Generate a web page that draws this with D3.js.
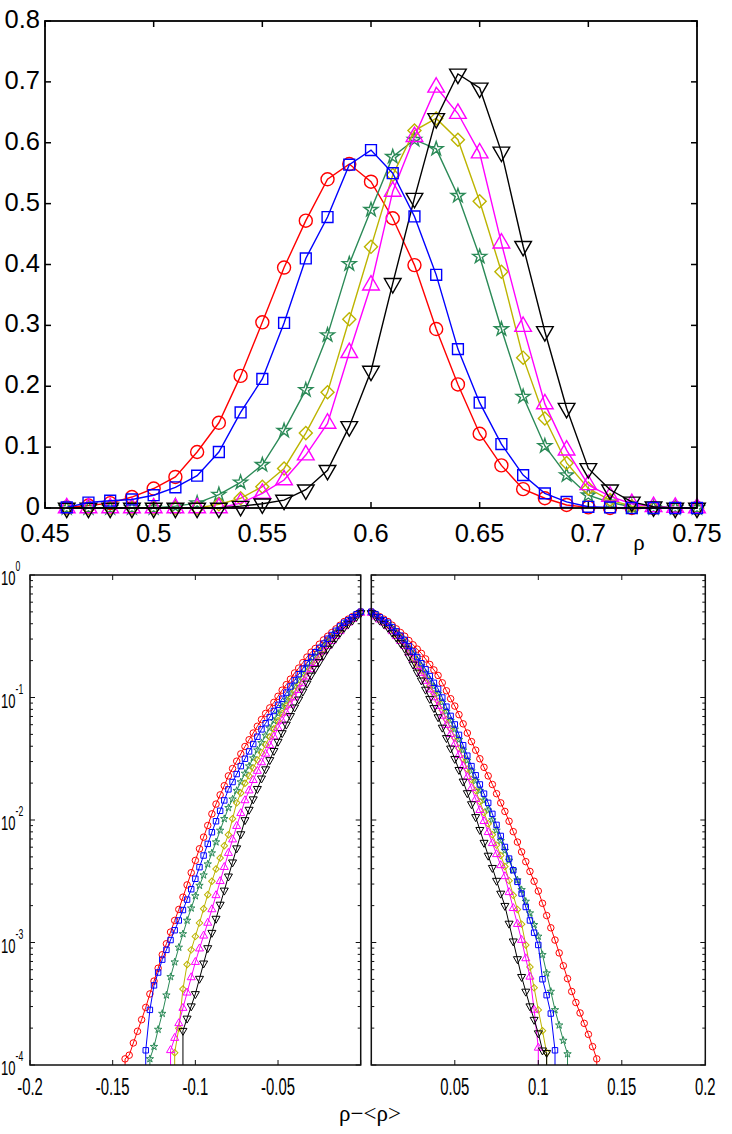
<!DOCTYPE html>
<html><head><meta charset="utf-8">
<script src="https://cdnjs.cloudflare.com/ajax/libs/d3/7.8.5/d3.min.js"></script>
<style>body{margin:0;background:#fff} svg{display:block}</style>
</head><body><svg id="c" width="732" height="1134"></svg>
<script>
// ---------- DATA ----------
// top panel: distribution P(rho) at rho = 0.46 ... 0.75
const rhoGrid = [0.46,0.47,0.48,0.49,0.50,0.51,0.52,0.53,0.54,0.55,0.56,0.57,0.58,0.59,0.60,0.61,0.62,0.63,0.64,0.65,0.66,0.67,0.68,0.69,0.70,0.71,0.72,0.73,0.74,0.75];
const topRed     = [0.001,0.004,0.008,0.018,0.032,0.051,0.092,0.140,0.217,0.305,0.395,0.472,0.540,0.565,0.536,0.476,0.399,0.294,0.203,0.122,0.070,0.031,0.016,0.005,0.001,0,0,0,0,0];
const topBlue    = [0.001,0.009,0.012,0.014,0.021,0.034,0.053,0.092,0.157,0.212,0.304,0.410,0.478,0.564,0.588,0.550,0.479,0.383,0.261,0.173,0.105,0.054,0.024,0.010,0.002,0.001,0,0,0,0];
const topGreen   = [0,0,0,0,0,0.003,0.008,0.022,0.042,0.071,0.127,0.194,0.284,0.401,0.490,0.577,0.605,0.590,0.513,0.413,0.294,0.183,0.102,0.054,0.021,0.009,0.002,0,0,0];
const topYellow  = [0,0,0,0,0,0,0,0.006,0.016,0.035,0.065,0.123,0.190,0.310,0.429,0.547,0.620,0.640,0.605,0.504,0.388,0.247,0.147,0.074,0.032,0.013,0.003,0,0,0];
const topMagenta = [0,0,0,0,0,0,0,0,0.008,0.024,0.046,0.087,0.139,0.255,0.366,0.520,0.610,0.691,0.648,0.583,0.435,0.298,0.171,0.095,0.038,0.019,0.007,0.002,0.001,0];
const topBlack   = [0,0,0,0,0,0,0,0,0.003,0.007,0.013,0.030,0.062,0.134,0.225,0.369,0.509,0.640,0.713,0.690,0.585,0.430,0.290,0.164,0.065,0.030,0.010,0.002,0,0];

// bottom panels: |rho - <rho>| grid and log10 of cumulative probability
const devGrid = [0,0.0025,0.005,0.0075,0.01,0.0125,0.015,0.0175,0.02,0.0225,0.025,0.0275,0.03,0.0325,0.035,0.0375,0.04,0.0425,0.045,0.0475,0.05,0.0525,0.055,0.0575,0.06,0.0625,0.065,0.0675,0.07,0.0725,0.075,0.0775,0.08,0.0825,0.085,0.0875,0.09,0.0925,0.095,0.0975,0.1,0.1025,0.105,0.1075,0.11,0.1125,0.115,0.1175,0.12,0.1225,0.125,0.1275,0.13,0.1325,0.135,0.1375,0.14,0.1425];

const leftRedLog = [-0.30,-0.32,-0.34,-0.36,-0.38,-0.41,-0.44,-0.47,-0.50,-0.53,-0.565,-0.60,-0.63,-0.67,-0.715,-0.76,-0.80,-0.85,-0.895,-0.94,-0.99,-1.04,-1.085,-1.13,-1.18,-1.235,-1.29,-1.345,-1.40,-1.46,-1.52,-1.58,-1.64,-1.72,-1.795,-1.87,-1.95,-2.045,-2.14,-2.235,-2.33,-2.43,-2.53,-2.63,-2.73,-2.82,-2.915,-3.01,-3.10,-3.21,-3.315,-3.42,-3.53,-3.63,-3.725,-3.82,-3.92,-3.95];
const leftBlueLog = [-0.30,-0.32,-0.345,-0.37,-0.39,-0.42,-0.455,-0.49,-0.52,-0.56,-0.595,-0.63,-0.67,-0.72,-0.765,-0.81,-0.86,-0.91,-0.96,-1.01,-1.06,-1.11,-1.16,-1.21,-1.26,-1.32,-1.38,-1.44,-1.50,-1.56,-1.625,-1.69,-1.75,-1.84,-1.925,-2.01,-2.10,-2.195,-2.29,-2.385,-2.48,-2.565,-2.65,-2.735,-2.82,-2.90,-2.98,-3.06,-3.14,-3.245,-3.35,-3.55,-3.88];
const leftGreenLog = [-0.30,-0.32,-0.35,-0.375,-0.40,-0.435,-0.47,-0.505,-0.54,-0.58,-0.625,-0.67,-0.71,-0.76,-0.81,-0.86,-0.91,-0.965,-1.02,-1.075,-1.13,-1.19,-1.25,-1.31,-1.37,-1.43,-1.495,-1.56,-1.62,-1.69,-1.76,-1.83,-1.90,-1.99,-2.085,-2.18,-2.27,-2.36,-2.45,-2.535,-2.62,-2.72,-2.82,-2.93,-3.04,-3.16,-3.28,-3.43,-3.58,-3.71,-3.85,-3.95];
const leftYellowLog = [-0.31,-0.33,-0.36,-0.385,-0.41,-0.45,-0.485,-0.52,-0.56,-0.605,-0.65,-0.695,-0.74,-0.79,-0.845,-0.90,-0.95,-1.01,-1.07,-1.13,-1.19,-1.255,-1.32,-1.385,-1.45,-1.51,-1.575,-1.64,-1.70,-1.78,-1.86,-1.99,-2.12,-2.21,-2.31,-2.40,-2.50,-2.61,-2.725,-2.84,-2.95,-3.06,-3.18,-3.38,-3.70,-3.90];
const leftMagentaLog = [-0.31,-0.33,-0.36,-0.39,-0.42,-0.46,-0.50,-0.54,-0.58,-0.625,-0.675,-0.72,-0.77,-0.83,-0.885,-0.94,-1.00,-1.06,-1.125,-1.19,-1.25,-1.32,-1.39,-1.46,-1.53,-1.60,-1.675,-1.76,-1.84,-1.945,-2.05,-2.16,-2.27,-2.385,-2.50,-2.615,-2.73,-2.84,-2.945,-3.05,-3.16,-3.285,-3.41,-3.535,-3.66,-3.78,-3.88];
const leftBlackLog = [-0.31,-0.34,-0.37,-0.40,-0.43,-0.47,-0.515,-0.56,-0.60,-0.655,-0.71,-0.765,-0.82,-0.885,-0.95,-1.015,-1.08,-1.15,-1.22,-1.29,-1.36,-1.435,-1.51,-1.585,-1.66,-1.745,-1.83,-1.915,-2.00,-2.115,-2.23,-2.345,-2.46,-2.575,-2.69,-2.805,-2.92,-3.045,-3.17,-3.295,-3.42,-3.52,-3.62,-3.72];

const rightRedLog = [-0.30,-0.32,-0.34,-0.36,-0.38,-0.41,-0.44,-0.47,-0.50,-0.535,-0.57,-0.605,-0.64,-0.685,-0.73,-0.775,-0.82,-0.88,-0.945,-1.01,-1.07,-1.14,-1.215,-1.29,-1.36,-1.43,-1.50,-1.57,-1.64,-1.71,-1.785,-1.86,-1.93,-2.01,-2.095,-2.18,-2.26,-2.34,-2.42,-2.50,-2.58,-2.68,-2.78,-2.88,-2.98,-3.085,-3.19,-3.295,-3.40,-3.49,-3.575,-3.66,-3.75,-3.85,-3.95];
const rightBlueLog = [-0.30,-0.32,-0.345,-0.37,-0.39,-0.425,-0.46,-0.495,-0.53,-0.58,-0.625,-0.67,-0.72,-0.77,-0.825,-0.88,-0.93,-1.00,-1.075,-1.15,-1.22,-1.305,-1.39,-1.475,-1.56,-1.635,-1.71,-1.785,-1.86,-1.95,-2.04,-2.13,-2.22,-2.315,-2.41,-2.505,-2.60,-2.71,-2.82,-2.92,-3.02,-3.30,-3.43,-3.58,-3.88];
const rightGreenLog = [-0.30,-0.32,-0.35,-0.375,-0.40,-0.435,-0.475,-0.51,-0.55,-0.60,-0.645,-0.69,-0.74,-0.80,-0.855,-0.91,-0.97,-1.04,-1.115,-1.19,-1.26,-1.345,-1.43,-1.515,-1.60,-1.68,-1.76,-1.84,-1.92,-2.00,-2.085,-2.17,-2.25,-2.33,-2.41,-2.49,-2.57,-2.665,-2.76,-2.855,-2.95,-3.10,-3.25,-3.40,-3.55,-3.675,-3.80,-3.91];
const rightYellowLog = [-0.31,-0.33,-0.36,-0.385,-0.41,-0.45,-0.49,-0.53,-0.57,-0.62,-0.675,-0.73,-0.78,-0.84,-0.905,-0.97,-1.03,-1.105,-1.18,-1.255,-1.33,-1.415,-1.50,-1.585,-1.67,-1.76,-1.85,-1.94,-2.03,-2.12,-2.205,-2.29,-2.38,-2.495,-2.615,-2.73,-2.85,-3.02,-3.20,-3.37,-3.55,-3.72,-3.90];
const rightMagentaLog = [-0.31,-0.34,-0.365,-0.39,-0.42,-0.46,-0.50,-0.54,-0.58,-0.635,-0.69,-0.745,-0.80,-0.865,-0.935,-1.00,-1.07,-1.15,-1.225,-1.30,-1.38,-1.47,-1.56,-1.65,-1.74,-1.83,-1.92,-2.01,-2.10,-2.19,-2.28,-2.37,-2.46,-2.59,-2.72,-2.85,-2.98,-3.13,-3.28,-3.55,-3.86];
const rightBlackLog = [-0.31,-0.34,-0.37,-0.40,-0.43,-0.47,-0.51,-0.555,-0.60,-0.665,-0.73,-0.795,-0.86,-0.935,-1.01,-1.085,-1.16,-1.245,-1.33,-1.415,-1.50,-1.59,-1.685,-1.78,-1.87,-1.975,-2.08,-2.185,-2.29,-2.39,-2.495,-2.60,-2.70,-2.845,-2.99,-3.135,-3.28,-3.40,-3.52,-3.63,-3.74,-3.88,-3.90];

// ticks
const topXTicks = [0.45,0.5,0.55,0.6,0.65,0.7,0.75];
const topXTickLabels = ["0.45","0.5","0.55","0.6","0.65","0.7","0.75"];
const topYTicks = [0,0.1,0.2,0.3,0.4,0.5,0.6,0.7,0.8];
const topYTickLabels = ["0","0.1","0.2","0.3","0.4","0.5","0.6","0.7","0.8"];
const botYTicks = [1,0.1,0.01,0.001,0.0001];
const botYTickExp = ["0","-1","-2","-3","-4"];
const leftXTicks = [-0.2,-0.15,-0.1,-0.05,0];
const leftXTickLabels = ["-0.2","-0.15","-0.1","-0.05",""];
const rightXTicks = [0,0.05,0.1,0.15,0.2];
const rightXTickLabels = ["","0.05","0.1","0.15","0.2"];

// ---------- STYLE ----------
const colors = {red:"#ff0000", blue:"#0000ff", green:"#2b8a57", yellow:"#bdb400", magenta:"#ff00ff", black:"#000000"};
const order = ["red","green","yellow","magenta","black","blue"];
const topSeries = {red:topRed, blue:topBlue, green:topGreen, yellow:topYellow, magenta:topMagenta, black:topBlack};
const leftSeries = {red:leftRedLog, blue:leftBlueLog, green:leftGreenLog, yellow:leftYellowLog, magenta:leftMagentaLog, black:leftBlackLog};
const rightSeries = {red:rightRedLog, blue:rightBlueLog, green:rightGreenLog, yellow:rightYellowLog, magenta:rightMagentaLog, black:rightBlackLog};

const svg = d3.select("#c");

function marker(name, big) {
  const k = big ? 1 : 0.25;
  switch (name) {
    case "red": return {type:d3.symbolCircle, size:133*k, rot:0};
    case "blue": return {type:d3.symbolSquare, size:118*k, rot:0};
    case "green": return {type:d3.symbolStar, size:(big?60:17), rot:0};
    case "yellow": return {type:d3.symbolSquare, size:85*k, rot:45};
    case "magenta": return {type:d3.symbolTriangle, size:(big?120:28), rot:0};
    case "black": return {type:d3.symbolTriangle, size:(big?120:28), rot:180};
  }
}

const sans = "Liberation Sans, Arial, Helvetica, sans-serif";

// ---------- TOP PANEL ----------
const tx = d3.scaleLinear([0.45,0.75],[45,697]);
const ty = d3.scaleLinear([0,0.8],[508,21]);
const gTop = svg.append("g");

order.forEach(name => {
  const vals = topSeries[name];
  const pts = rhoGrid.map((r,i)=>[tx(r), ty(vals[i])]);
  gTop.append("path").attr("d", d3.line()(pts)).attr("fill","none")
    .attr("stroke", colors[name]).attr("stroke-width",1.4);
  const m = marker(name, true);
  const sym = d3.symbol().type(m.type).size(m.size)();
  gTop.selectAll(null).data(pts).enter().append("path")
    .attr("d", sym)
    .attr("transform", d=>`translate(${d[0]},${d[1]}) rotate(${m.rot})`)
    .attr("fill","none").attr("stroke", colors[name]).attr("stroke-width",1.4);
});

gTop.append("rect").attr("x",45).attr("y",21).attr("width",697-45).attr("height",508-21)
  .attr("fill","none").attr("stroke","#000").attr("stroke-width",1.8);
topXTicks.forEach((t,i)=>{
  const x = tx(t);
  gTop.append("line").attr("x1",x).attr("x2",x).attr("y1",508).attr("y2",502).attr("stroke","#000").attr("stroke-width",1.5);
  gTop.append("line").attr("x1",x).attr("x2",x).attr("y1",21).attr("y2",27).attr("stroke","#000").attr("stroke-width",1.5);
  gTop.append("text").attr("x",x).attr("y",542).attr("text-anchor","middle")
    .attr("font-family",sans).attr("font-size",25.5).text(topXTickLabels[i]);
});
topYTicks.forEach((t,i)=>{
  const y = ty(t);
  gTop.append("line").attr("x1",45).attr("x2",51).attr("y1",y).attr("y2",y).attr("stroke","#000").attr("stroke-width",1.5);
  gTop.append("line").attr("x1",697).attr("x2",691).attr("y1",y).attr("y2",y).attr("stroke","#000").attr("stroke-width",1.5);
  gTop.append("text").attr("x",40).attr("y",y+7).attr("text-anchor","end")
    .attr("font-family",sans).attr("font-size",25.5).text(topYTickLabels[i]);
});
gTop.append("text").attr("x",639).attr("y",550).attr("text-anchor","middle")
  .attr("font-family","Liberation Serif, serif").attr("font-size",23).text("ρ");

// ---------- BOTTOM PANELS ----------
const by = d3.scaleLog([1e-4,1],[1065,575]);
const lx = d3.scaleLinear([-0.2,0],[30,360.7]);
const rx = d3.scaleLinear([0,0.2],[371.3,705.3]);
const condensed = 0.62;

function drawPanel(xs, sign, series, xTicks, xLabels, showY) {
  const g = svg.append("g");
  const [x0,x1] = xs.range();
  const y0 = 1065, y1 = 575;
  order.forEach(name => {
    const vals = series[name];
    const pts = vals.map((v,i)=>[xs(sign*devGrid[i]), by(Math.pow(10,v))]);
    const linePts = pts.concat([[pts[pts.length-1][0], by(1e-4)]]);
    g.append("path").attr("d", d3.line()(linePts)).attr("fill","none")
      .attr("stroke", colors[name]).attr("stroke-width",1);
    const m = marker(name, false);
    const sym = d3.symbol().type(m.type).size(m.size)();
    g.selectAll(null).data(pts).enter().append("path")
      .attr("d", sym)
      .attr("transform", d=>`translate(${d[0]},${d[1]}) rotate(${m.rot})`)
      .attr("fill","none").attr("stroke", colors[name]).attr("stroke-width",1);
  });
  g.append("rect").attr("x",x0).attr("y",y1).attr("width",x1-x0).attr("height",y0-y1)
    .attr("fill","none").attr("stroke","#111").attr("stroke-width",1.5);
  xTicks.forEach((t,i)=>{
    const x = xs(t);
    g.append("line").attr("x1",x).attr("x2",x).attr("y1",y0).attr("y2",y0-5).attr("stroke","#111");
    g.append("line").attr("x1",x).attr("x2",x).attr("y1",y1).attr("y2",y1+5).attr("stroke","#111");
    if (xLabels[i]) {
      g.append("text").attr("transform",`translate(${x},1095) scale(${condensed},1)`)
        .attr("text-anchor","middle").attr("font-family",sans)
        .attr("font-size",24).text(xLabels[i]);
    }
  });
  // log ticks
  for (let e=-4; e<=0; e++) {
    for (let m=1; m<=9; m++) {
      const v = m*Math.pow(10,e);
      if (v>1.0000001) break;
      const y = by(v);
      const len = m===1 ? 5 : 3;
      g.append("line").attr("x1",x0).attr("x2",x0+len).attr("y1",y).attr("y2",y).attr("stroke","#111");
      g.append("line").attr("x1",x1).attr("x2",x1-len).attr("y1",y).attr("y2",y).attr("stroke","#111");
    }
  }
  if (showY) {
    botYTicks.forEach((t,i)=>{
      const y = by(t);
      g.append("text").attr("transform",`translate(15.5,${y+10}) scale(${condensed},1)`)
        .attr("text-anchor","end").attr("font-family",sans)
        .attr("font-size",21).text("10");
      g.append("text").attr("transform",`translate(15.5,${y-4}) scale(${condensed},1)`)
        .attr("text-anchor","start").attr("font-family",sans)
        .attr("font-size",14).text(botYTickExp[i]);
    });
  }
}
drawPanel(lx, -1, leftSeries, leftXTicks, leftXTickLabels, true);
drawPanel(rx, 1, rightSeries, rightXTicks, rightXTickLabels, false);

svg.append("text").attr("x",370).attr("y",1121).attr("text-anchor","middle")
  .attr("font-family","Liberation Serif, serif").attr("font-size",23).text("ρ−<ρ>");
</script></body></html>
